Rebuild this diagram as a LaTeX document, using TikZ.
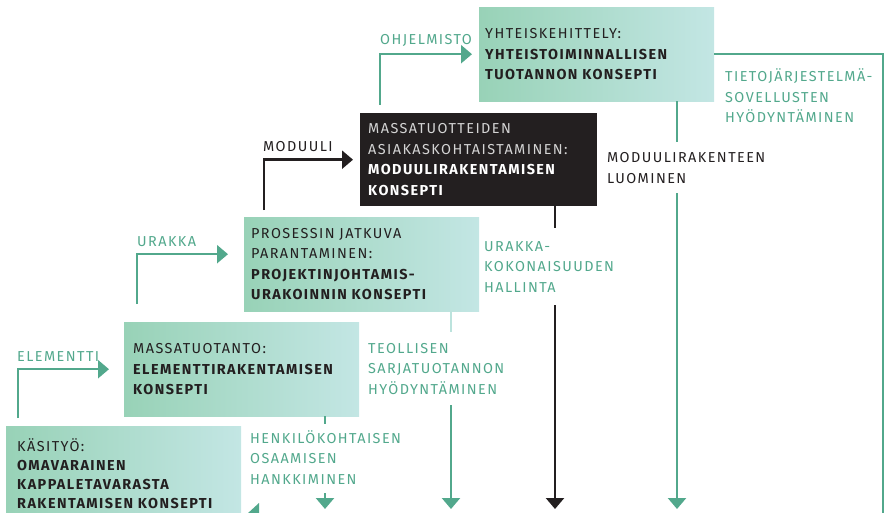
\documentclass[tikz,border=0pt]{standalone}
\usepackage{fontspec}
\setmainfont{Fira Sans}[LetterSpace=10]
\usetikzlibrary{arrows.meta}
\definecolor{ink}{HTML}{231F20}
\definecolor{leaf}{HTML}{52A88C}
\definecolor{mintL}{HTML}{98D2B7}
\definecolor{mintR}{HTML}{C3E6E4}
\definecolor{paleline}{HTML}{BCE3DD}
\definecolor{softgrey}{HTML}{D4D4D4}
\tikzset{
  txt/.style={font=\fontsize{14.4}{20.5}\selectfont},
  stage/.style={txt, draw=none, minimum width=235pt, minimum height=94pt,
    inner ysep=0pt, align=left, anchor=north west,
    left color=mintL, right color=mintR, text=ink},
  darkstage/.style={txt, fill=ink, minimum width=237pt, minimum height=93pt,
    inner ysep=0pt, align=left, anchor=north west, text=softgrey},
  glabel/.style={txt, text=leaf, inner sep=0pt, anchor=base west, text width=190pt, align=left},
  klabel/.style={glabel, text=ink},
  gline/.style={draw=leaf, line width=2.4pt},
  kline/.style={draw=ink, line width=2.4pt},
  pline/.style={draw=paleline, line width=2.4pt},
  tip/.style={-{Triangle[width=18pt,length=11pt]}},
}
\begin{document}
\begin{tikzpicture}[x=1pt,y=-1pt]
\useasboundingbox (0,0) rectangle (885,513);
\clip (0,0) rectangle (885,513);

% concept boxes, from the newest (top) to the oldest (bottom)
\node[stage, inner xsep=6pt, text width=223pt] (b1) at (479,7)
  {YHTEISKEHITTELY:\\\textbf{YHTEISTOIMINNALLISEN}\\\textbf{TUOTANNON KONSEPTI}};
\node[darkstage, inner xsep=8pt, text width=221pt] (b2) at (360,113)
  {MASSATUOTTEIDEN\\ASIAKASKOHTAISTAMINEN:\\\textcolor{white}{\textbf{MODUULIRAKENTAMISEN}}\\\textcolor{white}{\textbf{KONSEPTI}}};
\node[stage, inner xsep=7pt, text width=221pt] (b3) at (244,217)
  {PROSESSIN JATKUVA\\PARANTAMINEN:\\\textbf{PROJEKTINJOHTAMIS-}\\\textbf{URAKOINNIN KONSEPTI}};
\node[stage, inner xsep=9pt, text width=217pt] (b4) at (124,322)
  {MASSATUOTANTO:\\\textbf{ELEMENTTIRAKENTAMISEN}\\\textbf{KONSEPTI}};
\node[stage, inner xsep=11pt, text width=213pt, font=\fontsize{14.4}{19}\selectfont] (b5) at (6,426)
  {KÄSITYÖ:\\\textbf{OMAVARAINEN}\\\textbf{KAPPALETAVARASTA}\\\textbf{RAKENTAMISEN KONSEPTI}};

% step-up arrows into each box
\coordinate (s1) at (380,105);
\coordinate (s2) at (264,210);
\coordinate (s3) at (137,304);
\coordinate (s4) at (18,418);
\draw[gline, tip] (s1) |- ([xshift=-7pt]b1.west);
\draw[kline, tip] (s2) |- ([xshift=-7pt]b2.west);
\draw[gline, tip] (s3) |- ([xshift=-16pt, yshift=10pt]b3.west);
\draw[gline, tip] (s4) |- ([xshift=-15pt]b4.west);

\node[glabel] (l1) at (380,45) {OHJELMISTO};
\node[klabel] (l2) at (263,152) {MODUULI};
\node[glabel] (l3) at (137,246) {URAKKA};
\node[glabel] (l4) at (17,361) {ELEMENTTI};

% outcomes running down from each box
\coordinate (r1) at (883,520);
\draw[gline] (b1.east) -| (r1);
\node[glabel] (o1) at (725,82) {TIETOJÄRJESTELMÄ-\\SOVELLUSTEN\\HYÖDYNTÄMINEN};

\coordinate (d1a) at (677,142);
\coordinate (d1b) at (677,193);
\coordinate (d1c) at (677,509);
\draw[gline] (b1.south -| d1a) -- (d1a);
\draw[gline, tip] (d1b) -- (d1c);
\node[klabel] (o2) at (607,163) {MODUULIRAKENTEEN\\LUOMINEN};

\coordinate (d2a) at (555,228);
\coordinate (d2b) at (555,305);
\coordinate (d2c) at (555,509);
\draw[kline] (b2.south -| d2a) -- (d2a);
\draw[kline, tip] (d2b) -- (d2c);
\node[glabel] (o3) at (484,251) {URAKKA-\\KOKONAISUUDEN\\HALLINTA};

\coordinate (d3a) at (451,332);
\coordinate (d3b) at (451,405);
\coordinate (d3c) at (451,509);
\draw[pline] (b3.south -| d3a) -- (d3a);
\draw[gline, tip] (d3b) -- (d3c);
\node[glabel] (o4) at (368,353) {TEOLLISEN\\SARJATUOTANNON\\HYÖDYNTÄMINEN};

\coordinate (d4a) at (325,424);
\coordinate (d4b) at (325,493);
\coordinate (d4c) at (325,509);
\draw[gline] (b4.south -| d4a) -- (d4a);
\draw[gline, tip] (d4b) -- (d4c);
\node[glabel] (o5) at (250,443) {HENKILÖKOHTAISEN\\OSAAMISEN\\HANKKIMINEN};

% arrow head entering from below the edge
\fill[leaf] (259,503) -- (259,520) -- (247,514) -- cycle;
\end{tikzpicture}
\end{document}
